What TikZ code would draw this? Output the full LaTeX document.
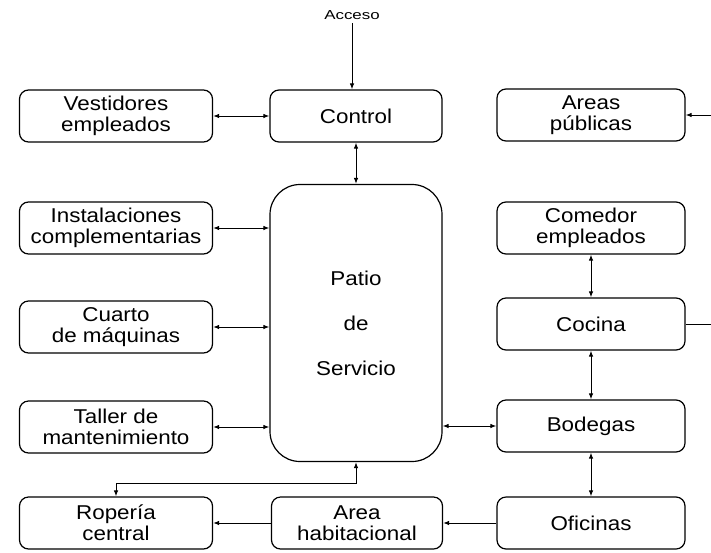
\documentclass[tikz,border=0pt]{standalone}
\usepackage{fontspec}
\setmainfont{Liberation Sans}
\newfontfamily\lblfont{Liberation Sans}[FakeStretch=1.12]
\newfontfamily\accfont{Liberation Sans}[FakeStretch=1.3]
\usetikzlibrary{arrows.meta,calc,positioning}
\tikzset{>={Latex[length=6pt,width=4.5pt]},
  every node/.style={font=\lblfont\fontsize{20}{21}\selectfont},
  box/.style={draw,rounded corners=9pt,line width=1.2pt,minimum height=52pt,inner sep=2pt,align=center},
  lbox/.style={box,minimum width=193pt},
  rbox/.style={box,minimum width=188pt},
  cbox/.style={box,minimum width=172pt},
  link/.style={<->,line width=1pt},
  flow/.style={->,line width=1pt}}
\begin{document}
\begin{tikzpicture}[x=1pt,y=-1pt]
\useasboundingbox (0,0) rectangle (711,552);
\node[font=\accfont\fontsize{13}{14}\selectfont](acc)at(352,15){Acceso};
\node[cbox](ctrl)at(356,116){Control};
\node[lbox](vest)at(116,116){Vestidores\\empleados};
\node[rbox](pub)at(591,115){Areas\\públicas};
\node[box,minimum width=172pt,minimum height=277pt,rounded corners=30pt](patio)at(356,323){Patio\\[24pt]de\\[24pt]Servicio};
\node[lbox](inst)at(116,228){Instalaciones\\complementarias};
\node[lbox](cuarto)at(116,327){Cuarto\\de máquinas};
\node[lbox](taller)at(116,427){Taller de\\mantenimiento};
\node[lbox](rop)at(116,523){Ropería\\central};
\node[box,minimum width=171pt](hab)at(357,523){Area\\habitacional};
\node[rbox](com)at(591,228){Comedor\\empleados};
\node[rbox](coc)at(591,324){Cocina};
\node[rbox](bod)at(591,426){Bodegas};
\node[rbox](ofi)at(591,523){Oficinas};
\coordinate(pubin)at(711,115);\coordinate(cocout)at(711,324);
\draw[flow](acc.south)--(acc.south|-ctrl.north);
\draw[link](vest)--(ctrl);\draw[link](ctrl)--(patio);
\foreach \n in {inst,cuarto,taller}{\draw[link](\n.east)--(\n.east-|patio.west);}
\draw[link](bod.west)--(bod.west-|patio.east);
\draw[link](com)--(coc);\draw[link](coc)--(bod);\draw[link](bod)--(ofi);
\draw[flow](ofi)--(hab);\draw[flow](hab)--(rop);
\draw[link](patio.south)--++(0,21)-|(rop.north);
\draw[flow](pubin)--(pub.east);\draw[line width=1pt](coc.east)--(cocout);
\end{tikzpicture}
\end{document}
